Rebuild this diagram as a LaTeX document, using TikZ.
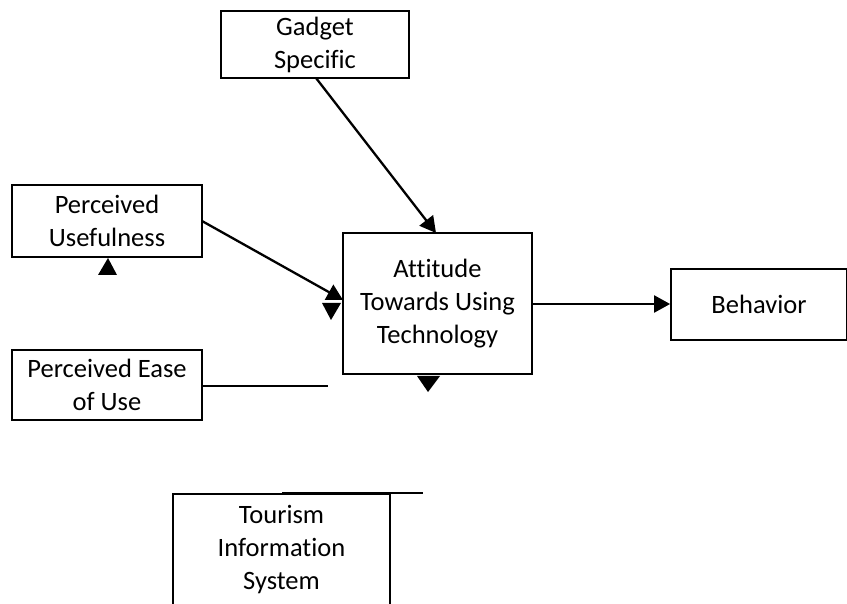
\documentclass[tikz,border=0pt]{standalone}
\usepackage{fontspec}
\setmainfont{Carlito}[Ligatures={NoCommon}]
\usetikzlibrary{arrows.meta}
\begin{document}
\begin{tikzpicture}[x=1pt,y=-1pt,
  box/.style={draw,line width=1.8pt,align=center,inner sep=0pt,
    font=\fontsize{26.5}{33}\selectfont},
  conn/.style={line width=2.3pt,-{Triangle[length=16pt,width=17pt]}},
  plain/.style={line width=2.3pt},
  tri/.style={fill=black}]
\useasboundingbox (0,0) rectangle (847,604);
\clip (0,0) rectangle (847,604);
\node[box,minimum width=188pt,minimum height=67pt] (gad) at (315,44.5) {Gadget\\Specific};
\node[box,minimum width=190pt,minimum height=72pt] (pu) at (107,221) {Perceived\\Usefulness};
\node[box,minimum width=190pt,minimum height=70pt] (pe) at (107,385) {Perceived Ease\\of Use};
\node[box,minimum width=189pt,minimum height=141pt] (att) at (437.5,303.5) {Attitude\\Towards Using\\Technology};
\node[box,minimum width=176pt,minimum height=71pt] (beh) at (759,304.5) {Behavior};
\node[box,minimum width=217pt,minimum height=150pt,anchor=north] (tis) at (281.5,493) {};
\node[align=center,anchor=north,inner sep=0pt,font=\fontsize{26.5}{33}\selectfont] (tistext) at ([yshift=-12pt]tis.north) {Tourism\\Information\\System};
\coordinate (gs) at (316,78);
\coordinate (gt) at (436,233);
\draw[conn] (gs) -- (gt);
\coordinate (ps) at (202,221);
\coordinate (pt) at (343,300);
\draw[conn] (ps) -- (pt);
\coordinate (es) at (pe.east |- 0,386);
\coordinate (ee) at (328,386);
\draw[plain] (es) -- (ee);
\draw[conn] (att.east |- 0,304) -- (beh.west |- 0,304);
\coordinate (ts) at (282,493);
\coordinate (te) at (423,493);
\draw[line width=2.6pt] (ts) -- (te);
% stray arrowheads
\fill[tri] (108,258) -- (117,275) -- (98,275) -- cycle;
\fill[tri] (322,303) -- (341,303) -- (331,320) -- cycle;
\fill[tri] (417,376) -- (440,376) -- (428,392) -- cycle;
\end{tikzpicture}
\end{document}
